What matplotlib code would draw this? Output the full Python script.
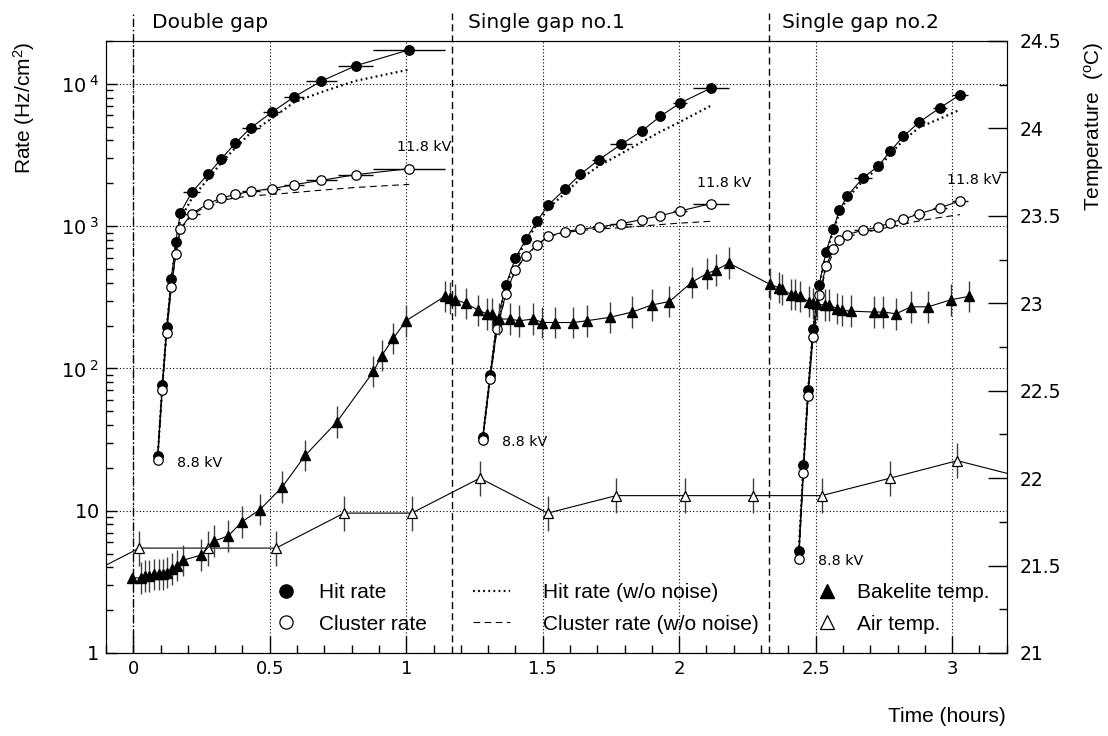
# ## ------- ## #
# ## Imports ## #
# ## ------- ## #

import matplotlib
matplotlib.use("Agg")
import matplotlib.pyplot as plt
from matplotlib.lines import Line2D
from matplotlib.legend import Legend
from matplotlib.ticker import MultipleLocator, FuncFormatter, LogLocator, NullFormatter
from matplotlib import transforms

# ## ---- ## #
# ## Data ## #
# ## ---- ## #

# Double gap (time in hours, rates in Hz/cm2), 8.8 kV -> 11.8 kV
dg_t = [0.089, 0.106, 0.122, 0.139, 0.156, 0.172, 0.214, 0.274, 0.322, 0.374, 0.431, 0.507, 0.588, 0.689, 0.815, 1.011]
dg_terr = [0.004, 0.004, 0.004, 0.005, 0.006, 0.008, 0.032, 0.020, 0.020, 0.021, 0.033, 0.031, 0.037, 0.056, 0.064, 0.131]
dg_hit = [24.3, 76, 195, 423, 778, 1236, 1727, 2320, 2960, 3835, 4920, 6300, 8070, 10450, 13400, 17350]
dg_clu = [22.7, 71, 177, 373, 641, 955, 1224, 1438, 1574, 1672, 1755, 1833, 1955, 2098, 2300, 2535]
dg_hit_nn = [23.5, 74, 190, 405, 740, 1120, 1560, 2150, 2780, 3550, 4550, 5700, 7400, 8750, 10500, 12600]
dg_clu_nn = [22.5, 70, 175, 370, 630, 940, 1200, 1400, 1510, 1580, 1630, 1670, 1720, 1790, 1870, 1965]

# Single gap no.1
sg1_t = [1.280, 1.307, 1.332, 1.365, 1.400, 1.439, 1.479, 1.520, 1.581, 1.638, 1.706, 1.787, 1.863, 1.930, 2.003, 2.116]
sg1_terr = [0.004, 0.004, 0.004, 0.005, 0.005, 0.006, 0.008, 0.012, 0.018, 0.015, 0.027, 0.039, 0.018, 0.015, 0.024, 0.065]
sg1_hit = [33, 89.6, 211, 384, 597, 812, 1081, 1406, 1813, 2310, 2930, 3752, 4655, 5900, 7320, 9330]
sg1_clu = [31.2, 84, 188, 336, 495, 621, 741, 848, 915, 950, 986, 1042, 1111, 1185, 1277, 1438]
sg1_hit_nn = [32, 87, 205, 370, 575, 780, 1030, 1330, 1700, 2150, 2650, 3230, 3900, 4600, 5400, 7020]
sg1_clu_nn = [31, 83, 185, 330, 490, 615, 735, 840, 900, 930, 955, 975, 1000, 1025, 1050, 1081]

# Single gap no.2
sg2_t = [2.438, 2.455, 2.472, 2.490, 2.513, 2.538, 2.565, 2.587, 2.615, 2.673, 2.729, 2.774, 2.821, 2.880, 2.956, 3.029]
sg2_terr = [0.003, 0.003, 0.004, 0.004, 0.005, 0.005, 0.006, 0.008, 0.012, 0.033, 0.012, 0.012, 0.018, 0.022, 0.027, 0.029]
sg2_hit = [5.2, 20.8, 70, 188, 388, 658, 960, 1291, 1626, 2178, 2643, 3366, 4275, 5385, 6795, 8380]
sg2_clu = [4.57, 18.5, 63.8, 165, 327, 525, 690, 804, 872, 935, 986, 1059, 1116, 1224, 1349, 1500]
sg2_hit_nn = [5.1, 20.5, 69, 185, 380, 640, 930, 1240, 1560, 2080, 2550, 3230, 4000, 4950, 5700, 6580]
sg2_clu_nn = [4.5, 18.2, 62, 160, 315, 500, 650, 760, 840, 900, 945, 990, 1030, 1090, 1150, 1205]

# Bakelite temperature (deg C)
bak_t = [-0.004, 0.028, 0.043, 0.058, 0.076, 0.094, 0.110, 0.125, 0.141, 0.159, 0.181, 0.248, 0.296,
         0.348, 0.398, 0.464, 0.546, 0.630, 0.745, 0.880, 0.910, 0.953, 0.999, 1.142, 1.160, 1.179,
         1.219, 1.264, 1.295, 1.313, 1.341, 1.380, 1.414, 1.466, 1.499, 1.545, 1.612, 1.661, 1.747,
         1.828, 1.899, 1.964, 2.046, 2.101, 2.135, 2.182, 2.331, 2.364, 2.378, 2.410, 2.425, 2.443,
         2.474, 2.490, 2.504, 2.535, 2.550, 2.577, 2.596, 2.630, 2.712, 2.748, 2.795, 2.849, 2.913,
         2.995, 3.063]
bak_T = [21.43, 21.43, 21.44, 21.44, 21.45, 21.45, 21.45, 21.46, 21.48, 21.50, 21.53, 21.56, 21.64,
         21.67, 21.75, 21.82, 21.95, 22.13, 22.32, 22.61, 22.70, 22.80, 22.90, 23.04, 23.03, 23.02,
         23.00, 22.96, 22.94, 22.94, 22.91, 22.91, 22.90, 22.91, 22.89, 22.89, 22.89, 22.90, 22.92,
         22.95, 22.99, 23.01, 23.12, 23.17, 23.19, 23.23, 23.11, 23.09, 23.08, 23.05, 23.05, 23.04,
         23.01, 23.00, 22.995, 22.99, 22.99, 22.97, 22.96, 22.955, 22.95, 22.95, 22.94, 22.98, 22.98,
         23.02, 23.04]
bak_Terr = [0.0] + [0.09] * (len(bak_T) - 1)

# Air temperature (deg C), first and last readings lie outside the shown time range
air_t = [-0.228, 0.022, 0.273, 0.523, 0.772, 1.020, 1.270, 1.518, 1.769, 2.022, 2.270, 2.522, 2.773, 3.019, 3.27]
air_T = [21.4, 21.6, 21.6, 21.6, 21.8, 21.8, 22.0, 21.8, 21.9, 21.9, 21.9, 21.9, 22.0, 22.1, 22.0]
air_Terr = [0.1] * len(air_T)

# Setup boundaries and labels
section_t = [0.0, 1.167, 2.33]
section_names = ["Double gap", "Single gap no.1", "Single gap no.2"]
section_text_t = [0.0685, 1.225, 2.376]
low_kv_pos = [(0.159, 21.8), (1.350, 30.2), (2.510, 4.43)]
high_kv_pos = [(0.965, 3594), (2.064, 2009), (2.982, 2098)]

rate_ticks = [1, 10, 100, 1000, 10000]
rate_ticklabels = [r"$\mathregular{1\enspace\,}$", r"$\mathregular{10\enspace\,}$",
                   r"$\mathregular{10^{\;2}}$", r"$\mathregular{10^{\;3}}$", r"$\mathregular{10^{\;4}}$"]

# ## ---------- ## #
# ## Make chart ## #
# ## ---------- ## #

W, H = 1108, 736
fig = plt.figure(figsize=(W / 100, H / 100), dpi=100)
ax = fig.add_axes([106 / W, 1 - 653 / H, 900.7 / W, 612 / H])
ax.set_yscale("log")
ax.set_xlim(-0.1, 3.2)
ax.set_ylim(1, 2e4)

lab_font = "Liberation Sans"
tick_font = "DejaVu Sans"

# Grid
ax.grid(True, which="major", color="black", lw=0.8, linestyle=(0, (1, 2)))

# Rate curves
groups = [(dg_t, dg_terr, dg_hit, dg_clu, dg_hit_nn, dg_clu_nn),
          (sg1_t, sg1_terr, sg1_hit, sg1_clu, sg1_hit_nn, sg1_clu_nn),
          (sg2_t, sg2_terr, sg2_hit, sg2_clu, sg2_hit_nn, sg2_clu_nn)]
for t, terr, hit, clu, hit_nn, clu_nn in groups:
    ax.plot(t, hit_nn, color="black", lw=1.6, linestyle=(0, (0.8, 1.5)), zorder=3)
    ax.plot(t, clu_nn, color="black", lw=0.8, linestyle=(0, (6, 4)), zorder=3)
    ax.errorbar(t, hit, xerr=terr, fmt="o", color="black", ms=6.8, mfc="black", mec="black",
                elinewidth=1, capsize=0, ls="-", lw=0.8, zorder=4)
    ax.errorbar(t, clu, xerr=terr, fmt="o", color="black", ms=6.8, mfc="white", mec="black",
                mew=0.9, elinewidth=1, capsize=0, ls="-", lw=0.8, zorder=5)

# Section lines reaching above the frame
for i, ts in enumerate(section_t):
    ls = (0, (6, 2, 1, 2)) if i == 0 else (0, (5, 3))
    ax.axvline(ts, ymin=0, ymax=1.045, color="black", lw=1, linestyle=ls, clip_on=False, zorder=2)

trans = transforms.blended_transform_factory(ax.transData, fig.transFigure)
for ts, name in zip(section_text_t, section_names):
    ax.text(ts, 1 - 28.5 / H, name, transform=trans, ha="left", va="baseline",
            fontsize=14.5, family=tick_font)

for x, y in low_kv_pos:
    ax.text(x, y, "8.8 kV", ha="left", va="center", fontsize=10.3, family=tick_font, zorder=6)
for x, y in high_kv_pos:
    ax.text(x, y, "11.8 kV", ha="left", va="center", fontsize=10.3, family=tick_font, zorder=6)

# Axes ticks
ax.xaxis.set_major_locator(MultipleLocator(0.5))
ax.xaxis.set_minor_locator(MultipleLocator(0.1))
ax.xaxis.set_major_formatter(FuncFormatter(lambda v, p: "%g" % v))
ax.set_yticks(rate_ticks)
ax.set_yticklabels(rate_ticklabels)
ax.yaxis.set_minor_locator(LogLocator(base=10, subs=[2, 3, 4, 5, 6, 7, 8, 9]))
ax.yaxis.set_minor_formatter(NullFormatter())
ax.tick_params(axis="x", which="major", direction="in", length=12, width=1, top=False, pad=5, labelsize=13)
ax.tick_params(axis="x", which="minor", direction="in", length=6, width=1, top=False)
ax.tick_params(axis="y", which="major", direction="in", length=8, width=1, right=False, pad=5, labelsize=14)
ax.tick_params(axis="y", which="minor", direction="in", length=5, width=1, right=False)
for lab in ax.get_xticklabels() + ax.get_yticklabels():
    lab.set_family(tick_font)

# Temperature axis
ax2 = ax.twinx()
ax2.set_ylim(21, 24.5)
ax2.set_xlim(-0.1, 3.2)
ax2.errorbar(air_t, air_T, yerr=air_Terr, fmt="^", color="black", ms=6.8, mfc="white", mec="black",
             mew=0.9, ecolor="0.25", elinewidth=1, capsize=0, ls="-", lw=0.8, zorder=3)
ax2.errorbar(bak_t, bak_T, yerr=bak_Terr, fmt="^", color="black", ms=6.8, mfc="black", mec="black",
             ecolor="0.25", elinewidth=1, capsize=0, ls="-", lw=0.8, zorder=4)
ax2.yaxis.set_major_locator(MultipleLocator(0.5))
ax2.yaxis.set_minor_locator(MultipleLocator(0.25))
ax2.yaxis.set_major_formatter(FuncFormatter(lambda v, p: "%g" % v))
ax2.tick_params(axis="y", which="major", direction="in", length=14, width=1, pad=9.5, labelsize=13.5)
ax2.tick_params(axis="y", which="minor", direction="in", length=6, width=1)
for lab in ax2.get_yticklabels():
    lab.set_family(tick_font)

# Axis titles
fig.text(24 / W, 1 - 41.5 / H, r"Rate (Hz/cm$\mathregular{^2}$)", rotation=90, ha="center", va="top",
         fontsize=15, family=lab_font)
fig.text(1094 / W, 1 - 41.5 / H, r"Temperature  ($\mathregular{^o}$C)", rotation=90, ha="center", va="top",
         fontsize=15, family=lab_font)
fig.text(1005.7 / W, 1 - 717 / H, "Time (hours)", ha="right", va="center", fontsize=15, family=lab_font)

# Legends (three columns)
h_hit = Line2D([], [], ls="none", marker="o", ms=9.5, mfc="black", mec="black")
h_clu = Line2D([], [], ls="none", marker="o", ms=9.5, mfc="white", mec="black", mew=0.9)
h_hit_nn = Line2D([], [], color="black", lw=1.6, linestyle=(0, (0.8, 1.5)))
h_clu_nn = Line2D([], [], color="black", lw=0.8, linestyle=(0, (6, 4)))
h_bak = Line2D([], [], ls="none", marker="^", ms=10, mfc="black", mec="black")
h_air = Line2D([], [], ls="none", marker="^", ms=10, mfc="white", mec="black", mew=0.9)

leg_specs = [([h_hit, h_clu], ["Hit rate", "Cluster rate"], 270, 1.5, 0.83),
             ([h_hit_nn, h_clu_nn], ["Hit rate (w/o noise)", "Cluster rate (w/o noise)"], 473.3, 1.76, 1.57),
             ([h_bak, h_air], ["Bakelite temp.", "Air temp."], 811.7, 1.5, 0.69)]
for handles, labels, x0, hl, hp in leg_specs:
    leg = Legend(ax2, handles, labels, loc="upper left", bbox_to_anchor=(x0 / W, 1 - 583.5 / H),
                 bbox_transform=fig.transFigure, frameon=False, borderpad=0, borderaxespad=0,
                 handlelength=hl, handletextpad=hp, labelspacing=0.58,
                 prop={"family": lab_font, "size": 15})
    ax2.add_artist(leg)

fig.savefig("out.png", dpi=100)
